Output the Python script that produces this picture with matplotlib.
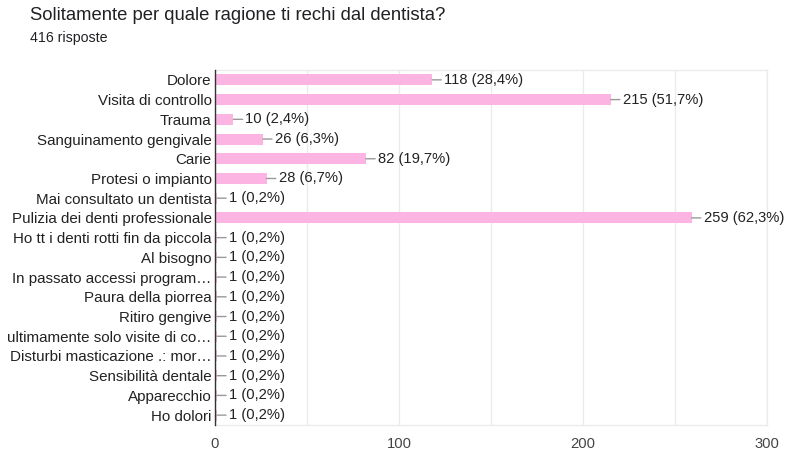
import matplotlib
matplotlib.use("Agg")
import matplotlib.pyplot as plt

categories = [
    "Dolore",
    "Visita di controllo",
    "Trauma",
    "Sanguinamento gengivale",
    "Carie",
    "Protesi o impianto",
    "Mai consultato un dentista",
    "Pulizia dei denti professionale",
    "Ho tt i denti rotti fin da piccola",
    "Al bisogno",
    "In passato accessi program…",
    "Paura della piorrea",
    "Ritiro gengive",
    "ultimamente solo visite di co…",
    "Disturbi masticazione .: mor…",
    "Sensibilità dentale",
    "Apparecchio",
    "Ho dolori",
]
counts = [118, 215, 10, 26, 82, 28, 1, 259, 1, 1, 1, 1, 1, 1, 1, 1, 1, 1]
percents = ["28,4%", "51,7%", "2,4%", "6,3%", "19,7%", "6,7%", "0,2%", "62,3%",
            "0,2%", "0,2%", "0,2%", "0,2%", "0,2%", "0,2%", "0,2%", "0,2%", "0,2%", "0,2%"]
xticks = [0, 100, 200, 300]
title = "Solitamente per quale ragione ti rechi dal dentista?"
subtitle = "416 risposte"

plt.rcParams['font.family'] = ['Liberation Sans', 'DejaVu Sans']

W, H = 803, 457
fig = plt.figure(figsize=(W / 100, H / 100), dpi=100)
fig.patch.set_facecolor('white')
ax = fig.add_axes([215 / W, (H - 425) / H, (767 - 215) / W, (425 - 70) / H])

y = list(range(len(categories)))
ax.barh(y, counts, height=0.56, color='#fcb5e3', zorder=2)
ax.set_ylim(len(categories) - 0.5, -0.5)
ax.set_xlim(0, 300)
ax.set_yticks(y)
ax.set_yticklabels(categories, fontsize=10.9, color='#222222')
ax.set_xticks(xticks)
ax.set_xticklabels([str(t) for t in xticks], fontsize=10.6, color='#444444')
ax.set_xticks([50, 150, 250], minor=True)
ax.tick_params(axis='y', length=0, pad=2.5)
ax.tick_params(axis='x', which='both', length=0, pad=9)
ax.grid(axis='x', which='both', color='#ebebeb', lw=1, zorder=0)

for s in ['top', 'right', 'bottom']:
    ax.spines[s].set_color('#ebebeb')
    ax.spines[s].set_linewidth(1)
ax.spines['left'].set_color('#333333')
ax.spines['left'].set_linewidth(1)
ax.spines['left'].set_zorder(3)

for i, (c, p) in enumerate(zip(counts, percents)):
    ax.annotate(f"{c} ({p})", xy=(c, i), xytext=(12, 0), textcoords='offset pixels',
                ha='left', va='center', fontsize=10.6, color='#222222',
                arrowprops=dict(arrowstyle='-', color='#999999', lw=1,
                                shrinkA=0, shrinkB=0, relpos=(0, 0.5)),
                annotation_clip=False, zorder=4)

fig.text(30 / W, 1 - 20 / H, title, fontsize=13.3, color='#202124', ha='left', va='baseline')
fig.text(30 / W, 1 - 42 / H, subtitle, fontsize=10.2, color='#202124', ha='left', va='baseline')

fig.savefig('out.png', dpi=100, facecolor='white')
